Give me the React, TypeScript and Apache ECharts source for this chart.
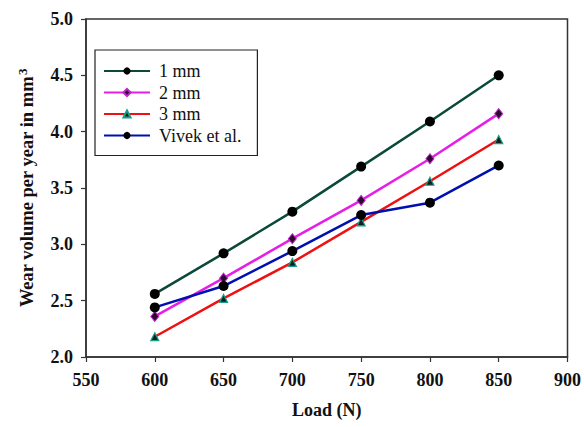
import React, { useEffect, useRef } from "react";
import * as echarts from "echarts";

const loads = [600, 650, 700, 750, 800, 850];
const mm1 = [2.56, 2.92, 3.29, 3.69, 4.09, 4.5];
const mm2 = [2.36, 2.7, 3.05, 3.39, 3.76, 4.16];
const mm3 = [2.18, 2.52, 2.84, 3.2, 3.56, 3.93];
const vivek = [2.44, 2.63, 2.94, 3.26, 3.37, 3.7];
const seriesNames = ["1 mm", "2 mm", "3 mm", "Vivek et al."];

const pairs = (ys: number[]) => loads.map((x, i) => [x, ys[i]]);

export default function App() {
  const ref = useRef<HTMLDivElement>(null);
  useEffect(() => {
    if (!ref.current) return;
    const chart = echarts.init(ref.current, null, { renderer: "svg" });
    const font = "'Liberation Serif', 'Times New Roman', serif";
    const axisCol = "#333";
    chart.setOption({
      animation: false,
      backgroundColor: "#fff",
      textStyle: { fontFamily: font },
      grid: {
        left: 86,
        right: 14,
        top: 19,
        bottom: 70,
        show: true,
        borderColor: axisCol,
        borderWidth: 1.5,
      },
      legend: {
        orient: "vertical",
        left: 95,
        top: 50,
        padding: [12, 16, 11, 8],
        borderColor: "#222",
        borderWidth: 1.2,
        backgroundColor: "#fff",
        itemWidth: 46,
        itemHeight: 9,
        itemGap: 3.5,
        textStyle: { fontFamily: font, fontSize: 18, color: "#111", padding: [0, 0, 0, 4] },
        data: seriesNames,
      },
      xAxis: {
        type: "value",
        min: 550,
        max: 900,
        interval: 50,
        name: "Load (N)",
        nameLocation: "middle",
        nameGap: 44,
        nameTextStyle: { fontFamily: font, fontSize: 18, fontWeight: "bold", color: "#111" },
        axisLine: { show: true, lineStyle: { color: axisCol, width: 1.5 } },
        axisTick: { show: true, inside: false, length: 5, lineStyle: { color: axisCol, width: 1.2 } },
        axisLabel: { fontFamily: font, fontSize: 18, fontWeight: "bold", color: "#111", margin: 14 },
        splitLine: { show: false },
      },
      yAxis: {
        type: "value",
        min: 2,
        max: 5,
        interval: 0.5,
        name: "Wear volume per year in mm{sup|3}",
        nameLocation: "middle",
        nameGap: 48,
        nameRotate: 90,
        nameTextStyle: {
          fontFamily: font,
          fontSize: 18.5,
          fontWeight: "bold",
          color: "#111",
          rich: {
            sup: { fontFamily: font, fontSize: 13, fontWeight: "bold", color: "#111", verticalAlign: "top", padding: [0, 0, 9, 1] },
          },
        },
        axisLine: { show: true, lineStyle: { color: axisCol, width: 1.5 } },
        axisTick: { show: true, inside: false, length: 5, lineStyle: { color: axisCol, width: 1.2 } },
        axisLabel: {
          fontFamily: font,
          fontSize: 18,
          fontWeight: "bold",
          color: "#111",
          margin: 13,
          formatter: (v: number) => v.toFixed(1),
        },
        splitLine: { show: false },
      },
      series: [
        {
          name: seriesNames[0],
          type: "line",
          data: pairs(mm1),
          symbol: "circle",
          symbolSize: 10,
          lineStyle: { color: "#0b4a3a", width: 2.5 },
          itemStyle: { color: "#000", borderColor: "#000", borderWidth: 0 },
          color: "#0b4a3a",
          z: 4,
        },
        {
          name: seriesNames[1],
          type: "line",
          data: pairs(mm2),
          symbol: "diamond",
          symbolSize: [8, 10],
          lineStyle: { color: "#e61ee6", width: 2.5 },
          itemStyle: { color: "#2a0a2a", borderColor: "#c020d0", borderWidth: 1 },
          color: "#e61ee6",
          z: 3,
        },
        {
          name: seriesNames[2],
          type: "line",
          data: pairs(mm3),
          symbol: "triangle",
          symbolSize: 8,
          lineStyle: { color: "#ee1111", width: 2.5 },
          itemStyle: { color: "#102020", borderColor: "#1aa08a", borderWidth: 1.2 },
          color: "#ee1111",
          z: 2,
        },
        {
          name: seriesNames[3],
          type: "line",
          data: pairs(vivek),
          symbol: "circle",
          symbolSize: 10,
          lineStyle: { color: "#0010b0", width: 2.5 },
          itemStyle: { color: "#000", borderWidth: 0 },
          color: "#0010b0",
          z: 5,
        },
      ],
    });
    return () => chart.dispose();
  }, []);
  return <div ref={ref} style={{ width: 584, height: 427, position: "absolute", left: 0, top: 0 }} />;
}
